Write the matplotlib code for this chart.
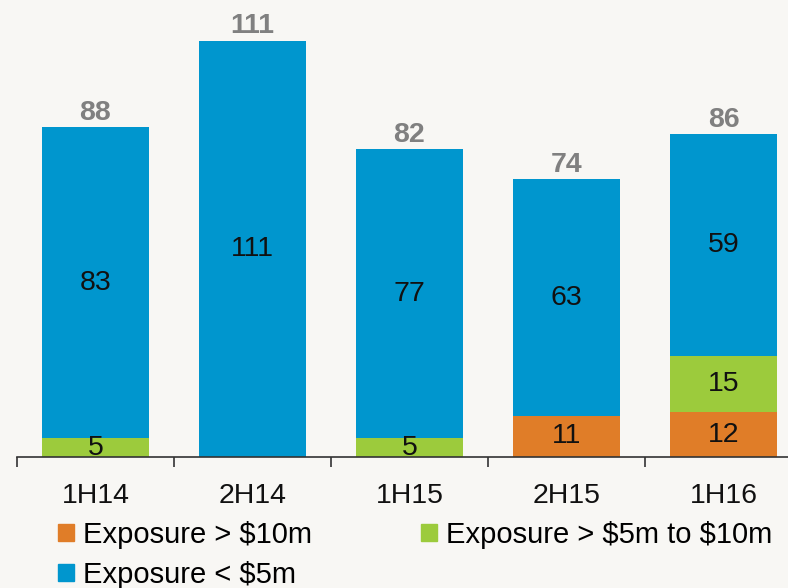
import matplotlib
matplotlib.use("Agg")
import matplotlib.pyplot as plt
import numpy as np
from matplotlib.patches import Patch

categories = ["1H14", "2H14", "1H15", "2H15", "1H16"]
over_10m = [0, 0, 0, 11, 12]
mid_5_10m = [5, 0, 5, 0, 15]
under_5m = [83, 111, 77, 63, 59]
totals = [88, 111, 82, 74, 86]

labels = [r"Exposure > \$10m", r"Exposure > \$5m to \$10m", r"Exposure < \$5m"]
c_orange = "#E07D28"
c_green = "#9CCB3C"
c_blue = "#0096CE"

plt.rcParams['font.family'] = ['Liberation Sans', 'DejaVu Sans']

W, H = 788, 588
fig = plt.figure(figsize=(W / 100, H / 100), dpi=100)
fig.patch.set_facecolor("#f8f7f4")

ax = fig.add_axes([17 / W, (H - 457) / H, 785 / W, 457 / H])
ax.patch.set_alpha(0)

x = np.arange(len(categories))
w = 0.68
o = np.array(over_10m, float)
g = np.array(mid_5_10m, float)
b = np.array(under_5m, float)

ax.bar(x, o, w, color=c_orange, label=labels[0])
ax.bar(x, g, w, bottom=o, color=c_green, label=labels[1])
ax.bar(x, b, w, bottom=o + g, color=c_blue, label=labels[2])

for i in range(len(x)):
    base = 0
    for vals in (o, g, b):
        v = vals[i]
        if v > 0:
            ax.text(x[i], base + v / 2, f"{int(v)}", ha="center", va="center",
                    fontsize=20.5, color="#111111")
        base += v
    ax.annotate(f"{totals[i]}", (x[i], base), xytext=(0, 1), textcoords="offset points",
                ha="center", va="bottom", fontsize=20.5, fontweight="bold", color="#808080")

ax.set_xlim(-0.5, len(categories) - 0.5)
ax.set_ylim(0, 457 / 3.75)
for s in ("top", "right", "left"):
    ax.spines[s].set_visible(False)
ax.spines["bottom"].set_color("#333333")
ax.spines["bottom"].set_linewidth(1.2)
ax.set_yticks([])
ax.set_xticks(x)
ax.set_xticklabels(categories, fontsize=20.5, color="#111111")
ax.tick_params(axis="x", which="major", length=0, pad=19)
ax.set_xticks(np.arange(-0.5, len(categories), 1.0), minor=True)
ax.tick_params(axis="x", which="minor", length=7, width=1.2, color="#333333", direction="out")

handles = [Patch(color=c_orange), Patch(color=c_blue), Patch(color=c_green)]
hl = [labels[0], labels[2], labels[1]]
fig.legend(handles, hl, ncol=2, loc="upper left",
           bbox_to_anchor=(58 / W, 1 - 521 / H), frameon=False, fontsize=21,
           handlelength=0.55, handleheight=0.55, handletextpad=0.3,
           columnspacing=3.75, labelspacing=0.4, borderpad=0, borderaxespad=0)

fig.savefig("out.png", dpi=100, facecolor=fig.get_facecolor())
